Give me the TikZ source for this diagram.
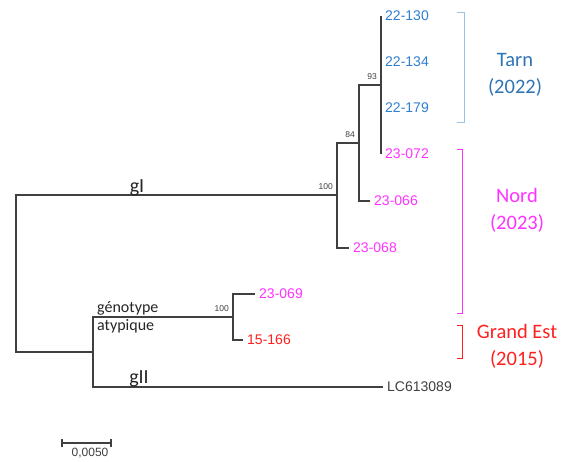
\documentclass[tikz,border=0pt]{standalone}
\usepackage{fontspec}
\setmainfont{Liberation Sans}
\newfontfamily\calfont{Carlito}
\definecolor{treegray}{HTML}{404040}
\definecolor{blueleaf}{HTML}{2F7FD1}
\definecolor{bluelab}{HTML}{2E75B6}
\definecolor{bluebr}{HTML}{9DC3E6}
\definecolor{mag}{HTML}{FF33FF}
\definecolor{redc}{HTML}{FF2020}
\begin{document}
\begin{tikzpicture}[x=1pt,y=-1pt,
  branch/.style={draw=treegray, line width=1.3pt},
  leaflab/.style={anchor=west, inner sep=0pt, xshift=4pt, font=\fontsize{14}{16}\selectfont},
  boot/.style={anchor=south east, inner sep=0pt, xshift=-4pt, yshift=5.5pt, text=treegray, font=\fontsize{8.5}{10}\selectfont},
  grouplab/.style={align=center, inner sep=0pt, font=\calfont\fontsize{20.5}{27}\selectfont},
  cladelab/.style={inner sep=0pt, text=black!85, font=\calfont\fontsize{20}{22}\selectfont},
  typlab/.style={anchor=base west, inner sep=0pt, text=black!85, font=\calfont\fontsize{16}{18}\selectfont},
  bracket/.style={line width=1pt}]
\useasboundingbox[fill=white] (0,0) rectangle (568,461);
% internal nodes
\coordinate (root) at (16,273);
\coordinate (n100) at (337,195);
\coordinate (n84) at (359,143);
\coordinate (n93) at (381,85);
\coordinate (nA) at (93,352);
\coordinate (nG) at (233,317);
% tips
\coordinate (t22130) at (381,16);
\coordinate (t22134) at (381,62);
\coordinate (t22179) at (381,108);
\coordinate (t23072) at (381,154);
\coordinate (t23066) at (370,201);
\coordinate (t23068) at (349,248);
\coordinate (t23069) at (255,294);
\coordinate (t15166) at (243,340);
\coordinate (tLC) at (383,387);
% branches
\draw[branch] (root) |- (n100);
\draw[branch] (root) |- (nA);
\draw[branch] (n100) |- (n84);
\draw[branch] (n100) |- (t23068);
\draw[branch] (n84) |- (n93);
\draw[branch] (n84) |- (t23066);
\draw[branch] (n93) |- (t22130);
\draw[branch] (n93) |- (t23072);
\draw[branch] (nA) |- (nG);
\draw[branch] (nA) |- (tLC);
\draw[branch] (nG) |- (t23069);
\draw[branch] (nG) |- (t15166);
% leaf labels
\node[leaflab, text=blueleaf] (l22130) at (t22130) {22-130};
\node[leaflab, text=blueleaf] (l22134) at (t22134) {22-134};
\node[leaflab, text=blueleaf] (l22179) at (t22179) {22-179};
\node[leaflab, text=mag] (l23072) at (t23072) {23-072};
\node[leaflab, text=mag] (l23066) at (t23066) {23-066};
\node[leaflab, text=mag] (l23068) at (t23068) {23-068};
\node[leaflab, text=mag] (l23069) at (t23069) {23-069};
\node[leaflab, text=redc] (l15166) at (t15166) {15-166};
\node[leaflab, text=treegray] (lLC) at (tLC) {LC613089};
% bootstrap
\node[boot] (b93) at (n93) {93};
\node[boot] (b84) at (n84) {84};
\node[boot] (b100) at (n100) {100};
\node[boot] (bG) at (nG) {100};
% clade labels
\node[cladelab, anchor=base] (gI) at (137,192) {gI};
\node[cladelab, anchor=base] (gII) at (139,383) {gII};
\node[typlab] (geno) at (97,312) {génotype};
\node[typlab] (atyp) at (97,330) {atypique};
% brackets
\draw[bracket, bluebr] (457,12) -- (464,12) -- (464,122) -- (457,122);
\draw[bracket, mag] (457,149) -- (462,149) -- (462,313) -- (457,313);
\draw[bracket, redc] (457,325) -- (462,325) -- (462,358) -- (457,358);
\node[grouplab, text=bluelab] (tarn) at (515,75) {Tarn\\(2022)};
\node[grouplab, text=mag] (nord) at (517,210) {Nord\\(2023)};
\node[grouplab, text=redc] (ge) at (517,346) {Grand Est\\(2015)};
% scale bar
\coordinate (s1) at (62,443);
\coordinate (s2) at (111,443);
\draw[treegray, line width=1.1pt] (s1) -- (s2);
\draw[treegray, line width=1.1pt] ([yshift=4pt]s1) -- ([yshift=-4pt]s1);
\draw[treegray, line width=1.1pt] ([yshift=4pt]s2) -- ([yshift=-4pt]s2);
\node[inner sep=0pt, text=treegray, font=\fontsize{12}{14}\selectfont] (sl) at (90,453) {0,0050};
\end{tikzpicture}
\end{document}
